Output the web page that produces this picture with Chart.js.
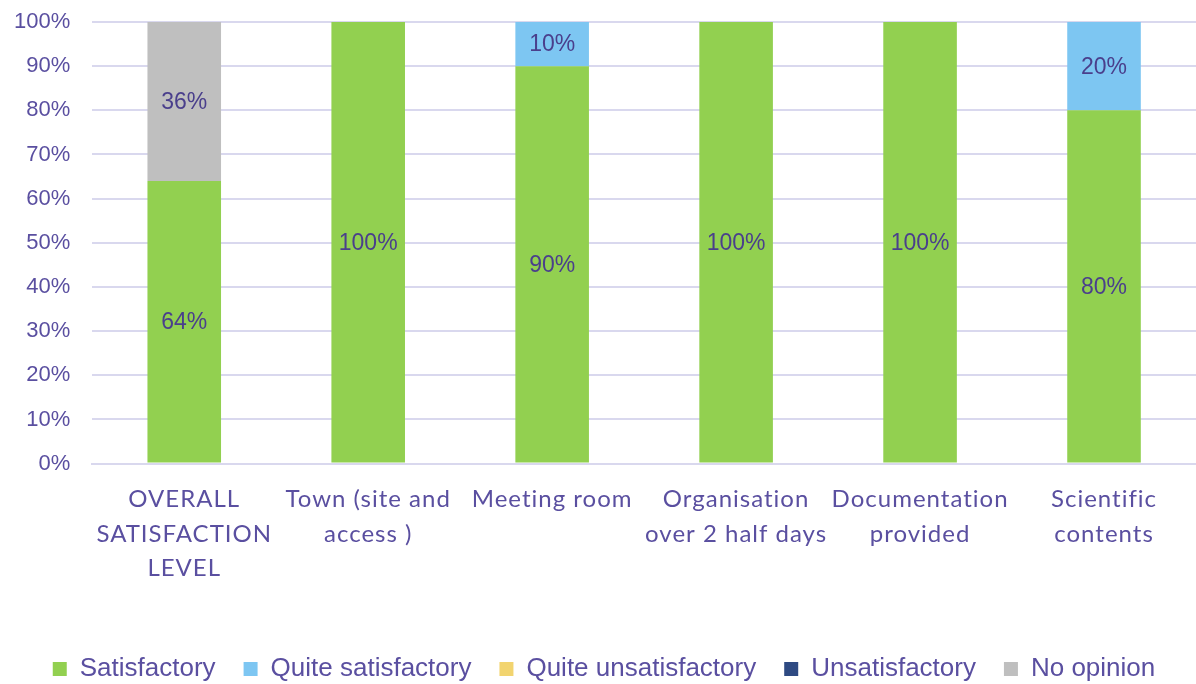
<!DOCTYPE html>
<html>
<head>
<meta charset="utf-8">
<script src="https://cdn.jsdelivr.net/npm/chart.js@4/dist/chart.umd.min.js"></script>
<style>
  body { margin: 0; background: #fff; }
  #wrap { width: 1196px; height: 684px; }
</style>
</head>
<body>
<div id="wrap"><canvas id="satisfactionChart" width="1196" height="684"></canvas></div>
<script>
const categories = [
  ['OVERALL', 'SATISFACTION', 'LEVEL'],
  ['Town (site and', 'access )'],
  ['Meeting room'],
  ['Organisation', 'over 2 half days'],
  ['Documentation', 'provided'],
  ['Scientific', 'contents']
];
const satisfactory = [64, 100, 90, 100, 100, 80];
const quiteSatisfactory = [0, 0, 10, 0, 0, 20];
const quiteUnsatisfactory = [0, 0, 0, 0, 0, 0];
const unsatisfactory = [0, 0, 0, 0, 0, 0];
const noOpinion = [36, 0, 0, 0, 0, 0];
const yTicks = [0, 10, 20, 30, 40, 50, 60, 70, 80, 90, 100];

const TEXT = '#5a4fa0';
const ARIAL = '"Liberation Sans", Arial, sans-serif';

// draws the % label in the middle of each non-empty segment
const segmentLabels = {
  id: 'segmentLabels',
  afterDatasetsDraw(chart) {
    const ctx = chart.ctx;
    ctx.save();
    ctx.font = '23px ' + ARIAL;
    ctx.fillStyle = '#4a3f8c';
    ctx.textAlign = 'center';
    ctx.textBaseline = 'middle';
    chart.data.datasets.forEach((ds, i) => {
      const meta = chart.getDatasetMeta(i);
      if (meta.hidden) return;
      meta.data.forEach((bar, j) => {
        const v = ds.data[j];
        if (!v) return;
        ctx.fillText(Math.round(v) + '%', bar.x, (bar.y + bar.base) / 2 + 1);
      });
    });
    ctx.restore();
  }
};

// the category labels in the original are letter-spaced
const spacedXLabels = {
  id: 'spacedXLabels',
  afterLayout(chart) {
    const s = chart.scales.x;
    if (s._spaced) return;
    s._spaced = true;
    const draw = s.drawLabels.bind(s);
    s.drawLabels = area => {
      const prev = s.ctx.letterSpacing;
      s.ctx.letterSpacing = '1px';
      draw(area);
      s.ctx.letterSpacing = prev;
    };
  }
};

new Chart(document.getElementById('satisfactionChart'), {
  type: 'bar',
  data: {
    labels: categories,
    datasets: [
      { label: 'Satisfactory', data: satisfactory, backgroundColor: '#92d050' },
      { label: 'Quite satisfactory', data: quiteSatisfactory, backgroundColor: '#7dc6f2' },
      { label: 'Quite unsatisfactory', data: quiteUnsatisfactory, backgroundColor: '#f2d46f' },
      { label: 'Unsatisfactory', data: unsatisfactory, backgroundColor: '#2e4a82' },
      { label: 'No opinion', data: noOpinion, backgroundColor: '#bfbfbf' }
    ]
  },
  options: {
    responsive: false,
    animation: false,
    layout: { padding: { top: 22, left: 12, right: 0, bottom: -8 } },
    datasets: { bar: { barPercentage: 0.4, categoryPercentage: 1.0 } },
    plugins: {
      legend: {
        position: 'bottom',
        labels: {
          color: TEXT,
          boxWidth: 14,
          boxHeight: 14,
          padding: 28,
          font: { family: ARIAL, size: 26 }
        }
      },
      tooltip: { enabled: false }
    },
    scales: {
      x: {
        stacked: true,
        grid: { display: false, drawTicks: true, tickLength: 16 },
        border: { color: '#d9d8ee', width: 2 },
        ticks: {
          color: TEXT,
          padding: 2,
          maxRotation: 0,
          autoSkip: false,
          font: { family: 'Lato, "Noto Sans", sans-serif', size: 24, lineHeight: 1.45 }
        },
        afterFit: scale => { scale.height += 40; }
      },
      y: {
        stacked: true,
        min: 0,
        max: 100,
        border: { display: false },
        grid: { color: '#d9d8ee', lineWidth: 2, drawTicks: true, tickLength: 20, tickColor: 'rgba(0,0,0,0)' },
        afterBuildTicks: scale => { scale.ticks = yTicks.map(v => ({ value: v })); },
        ticks: {
          color: TEXT,
          padding: 2,
          font: { family: ARIAL, size: 22 },
          callback: v => v + '%'
        }
      }
    }
  },
  plugins: [segmentLabels, spacedXLabels]
});
</script>
</body>
</html>
